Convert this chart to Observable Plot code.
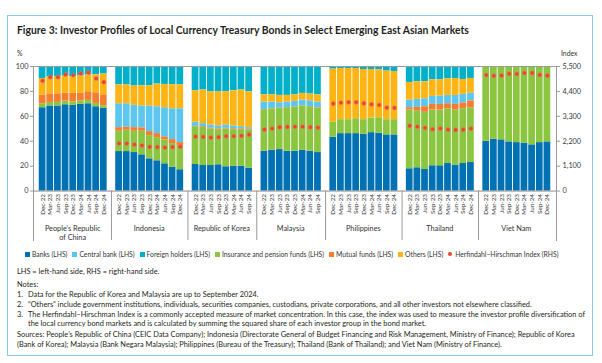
<!DOCTYPE html>
<html><head><meta charset="utf-8">
<script src="https://cdn.jsdelivr.net/npm/d3@7"></script>
<script src="https://cdn.jsdelivr.net/npm/@observablehq/plot@0.6"></script>
<style>
body{margin:0;background:#fff;font-family:Lato,"Open Sans",sans-serif;color:#231f20;}
#page{position:relative;width:602px;height:363px;overflow:hidden;}
#box{position:absolute;left:7px;top:15px;width:586px;height:341px;border:1px solid #8ccbe8;box-sizing:border-box;}
#title{position:absolute;left:17px;top:24px;font-weight:700;font-size:10.4px;white-space:nowrap;line-height:13px;}
.ylab{position:absolute;top:49px;font-size:6.8px;color:#333;line-height:8px;}
#chart{position:absolute;left:7px;top:40px;}
#legend{position:absolute;left:25px;top:250px;display:flex;gap:5px;font-size:6.75px;white-space:nowrap;align-items:center;line-height:8px;color:#333}
#legend .item{display:flex;align-items:center}
.sw{display:inline-block;width:5px;height:5px;margin-right:2px}
.dotsw{display:inline-block;width:4px;height:4px;border-radius:50%;margin-right:3px}
.note{position:absolute;font-size:7.4px;white-space:nowrap;line-height:9px;color:#231f20}
</style></head>
<body><div id="page">
<div id="box"></div>
<div id="title">Figure 3: Investor Profiles of Local Currency Treasury Bonds in Select Emerging East Asian Markets</div>
<div class="ylab" style="left:17px">%</div>
<div class="ylab" style="left:561px">Index</div>
<div id="chart"></div>
<div id="legend"></div>
<div id="notes"></div>
</div>
<script>
const markets = ["People's Republic of China","Indonesia","Republic of Korea","Malaysia","Philippines","Thailand","Viet Nam"];
const marketLines = [["People's Republic","of China"],["Indonesia"],["Republic of Korea"],["Malaysia"],["Philippines"],["Thailand"],["Viet Nam"]];
const quarters = ["Dec-22","Mar-23","Jun-23","Sep-23","Dec-23","Mar-24","Jun-24","Sep-24","Dec-24"];

const seriesNames = ["Banks (LHS)","Central bank (LHS)","Foreign holders (LHS)","Insurance and pension funds (LHS)","Mutual funds (LHS)","Others (LHS)"];
const seriesColors = ["#0071b3","#5cc6ee","#00b0cb","#8cc540","#f47d30","#fdb515"];
const stackOrder = ["Banks (LHS)","Insurance and pension funds (LHS)","Mutual funds (LHS)","Central bank (LHS)","Others (LHS)","Foreign holders (LHS)"];
const hhiLabel = "Herfindahl–Hirschman Index (RHS)";
const hhiColor = "#ea4530";

// shares (%) per market, per quarter
const banks = [
  [66.9,68.3,68.3,69.3,68.8,69.6,70.1,67.7,66.4],
  [31.7,31.7,30.9,29.1,25.9,24.3,21.9,19.2,17.1],
  [21.3,20.5,20.5,21.1,19.5,20.0,20.0,18.4],
  [32.0,32.8,33.3,32.0,32.0,32.8,32.0,30.9],
  [43.2,46.1,46.1,46.1,45.6,46.9,46.4,45.1,45.1],
  [17.9,18.7,17.3,20.3,20.3,22.1,20.8,22.1,22.9],
  [40.0,41.6,41.1,39.5,38.9,38.4,37.1,38.9,39.5]
];
const insurance = [
  [3.0,2.9,2.9,3.0,2.7,2.7,2.7,2.7,2.1],
  [16.3,17.1,17.1,18.9,18.6,18.6,19.2,18.9,19.4],
  [30.4,30.7,29.4,28.2,30.4,29.3,29.3,30.7],
  [33.3,33.1,33.1,34.9,35.2,35.5,35.7,35.8],
  [12.0,11.2,11.2,12.0,11.7,11.8,12.5,12.2,12.2],
  [47.2,45.8,45.9,44.8,44.8,44.0,44.3,44.0,43.8],
  [59.3,57.7,58.2,59.8,60.4,60.9,62.2,60.4,59.8]
];
const mutualFunds = [
  [6.9,6.9,6.9,6.4,6.9,6.1,6.9,8.5,8.8],
  [2.9,2.4,2.9,2.7,3.2,3.2,2.4,3.2,2.4],
  [0.3,0.6,0.6,0.6,0.5,0.6,0.6,0.5],
  [0.2,0.2,0.2,0.2,0.2,0.2,0.2,0.2],
  [0,0,0,0,0,0,0,0,0],
  [1.8,2.7,4.5,4.5,4.5,4.0,4.5,4.6,5.6],
  [0,0,0,0,0,0,0,0,0]
];
const centralBank = [
  [0,0,0,0,0,0,0,0,0],
  [19.2,18.9,17.9,17.6,20.6,21.6,23.4,24.8,27.2],
  [3.2,2.3,2.6,2.4,2.7,2.4,1.8,1.3],
  [6.0,5.4,4.3,4.4,4.6,4.6,4.6,4.6],
  [0,0,0,0,0,0,0,0,0],
  [6.2,6.4,6.4,6.4,6.7,6.7,7.2,6.9,6.4],
  [0,0,0,0,0,0,0,0,0]
];
const others = [
  [13.6,13.4,13.6,13.6,13.3,14.1,13.4,14.4,16.6],
  [15.2,15.2,15.5,16.2,16.2,18.2,18.7,19.2,19.2],
  [25.3,27.0,26.6,27.2,26.6,28.2,29.4,28.8],
  [5.8,5.8,5.9,5.3,5.3,5.3,5.4,5.8],
  [42.7,41.1,41.1,40.3,40.3,38.9,38.4,39.0,38.7],
  [14.1,14.1,13.6,13.3,13.0,13.3,13.6,12.0,11.7],
  [0.3,0.3,0.3,0.3,0.3,0.3,0.5,0.5,0.5]
];
const foreign = [
  [9.6,8.5,8.3,7.7,8.3,7.5,6.9,6.7,6.1],
  [14.7,14.7,15.7,15.5,15.5,14.1,14.4,14.7,14.7],
  [19.5,18.9,20.3,20.5,20.3,19.5,18.9,20.3],
  [22.7,22.7,23.2,23.2,22.7,21.6,22.1,22.7],
  [2.1,1.6,1.6,1.6,2.4,2.4,2.7,3.7,4.0],
  [12.8,12.3,12.3,10.7,10.7,9.9,9.6,10.4,9.6],
  [0.4,0.4,0.4,0.4,0.4,0.4,0.2,0.2,0.2]
];
const hhi = [
  [4870,5030,5030,5150,5120,5190,5240,4970,4810],
  [2100,2100,2050,2010,1950,1940,1920,1940,1960],
  [2400,2390,2360,2380,2420,2420,2440,2490],
  [2710,2760,2820,2830,2840,2840,2820,2800],
  [3860,3900,3920,3920,3870,3830,3800,3680,3670],
  [2880,2840,2790,2730,2760,2710,2700,2710,2760],
  [5120,5090,5100,5180,5170,5210,5210,5130,5100]
];
const leftTicks = [0,20,40,60,80,100];
const rightTicks = [0,1100,2200,3300,4400,5500];
const hhiMax = 5500;

const seriesData = {
  "Banks (LHS)": banks, "Central bank (LHS)": centralBank, "Foreign holders (LHS)": foreign,
  "Insurance and pension funds (LHS)": insurance, "Mutual funds (LHS)": mutualFunds, "Others (LHS)": others
};

const domain = [], gapKeys = [], rows = [], hhiRows = [], tickRows = [], groups = [];
markets.forEach((m, i) => {
  if (i > 0) { domain.push("gap" + i); gapKeys.push("gap" + i); }
  const keys = [];
  banks[i].forEach((_, j) => {
    const key = m + "|" + quarters[j];
    domain.push(key); keys.push(key);
    tickRows.push({key, q: quarters[j]});
    hhiRows.push({key, hhi: hhi[i][j]});
    for (const s of seriesNames) rows.push({key, series: s, value: seriesData[s][i][j]});
  });
  groups.push({lines: marketLines[i], first: keys[0], last: keys[keys.length - 1]});
});

const yMin = -39.7;
const gray = "#9a9a9a";
const plot = Plot.plot({
  width: 586, height: 208,
  marginTop: 26, marginBottom: 8, marginLeft: 26, marginRight: 37,
  style: {fontFamily: "Lato, 'Open Sans', sans-serif", fontSize: "7.3px", color: "#3a3a3a", background: "transparent", overflow: "visible"},
  x: {type: "band", domain, paddingInner: 0.12, paddingOuter: 0.75, axis: null},
  y: {domain: [yMin, 100], axis: null},
  color: {domain: seriesNames, range: seriesColors},
  marks: [
    Plot.barY(rows, {x: "key", y: "value", fill: "series", order: stackOrder}),
    Plot.frame({anchor: "top", stroke: gray}),
    Plot.frame({anchor: "left", stroke: gray}),
    Plot.frame({anchor: "right", stroke: gray}),
    Plot.ruleY([0], {stroke: "#8a8a8a"}),
    Plot.ruleX(gapKeys, {y1: yMin, y2: 0, stroke: gray}),
    Plot.axisY({anchor: "left", ticks: leftTicks, tickSize: 3, tickPadding: 2, label: null, stroke: gray}),
    Plot.axisY({anchor: "right", ticks: rightTicks.map(d => d / hhiMax * 100), tickFormat: d => d3.format(",")(Math.round(d * hhiMax / 100)), tickSize: 3, tickPadding: 3, label: null, stroke: gray}),
    Plot.dot(hhiRows, {x: "key", y: d => d.hhi / hhiMax * 100, r: 2.1, fill: hhiColor, stroke: "#f07a60", strokeWidth: 0.5}),
    Plot.text(tickRows, {x: "key", y: 0, text: "q", rotate: -90, textAnchor: "end", dy: 3, fontSize: 6.3, fill: "#333"})
  ]
});
document.getElementById("chart").appendChild(plot);

// group labels centred under each market's bars, positioned with Plot's x scale
const xs = plot.scale("x");
const ys = plot.scale("y");
const svg = d3.select(plot);
for (const g of groups) {
  const cx = (xs.apply(g.first) + xs.apply(g.last) + xs.bandwidth) / 2;
  const t = svg.append("text").attr("text-anchor", "middle").attr("font-size", 7.3).attr("fill", "#333")
    .attr("font-family", "Lato, 'Open Sans', sans-serif");
  g.lines.forEach((ln, k) => {
    t.append("tspan").attr("x", cx).attr("y", ys.apply(-30.4) + k * 9).attr("dy", "0.35em").text(ln);
  });
}

// legend
const legend = document.getElementById("legend");
seriesNames.forEach((s, i) => {
  const it = document.createElement("span"); it.className = "item";
  it.innerHTML = `<span class="sw" style="background:${seriesColors[i]}"></span>${s}`;
  legend.appendChild(it);
});
const hi = document.createElement("span"); hi.className = "item";
hi.innerHTML = `<span class="dotsw" style="background:${hhiColor}"></span>${hhiLabel}`;
legend.appendChild(hi);

// notes
const noteLines = [
  [17, 267, "LHS = left-hand side, RHS = right-hand side."],
  [17, 280, "Notes:"],
  [17, 290, "1."], [28, 290, "Data for the Republic of Korea and Malaysia are up to September 2024."],
  [17, 300, "2."], [28, 300, "“Others” include government institutions, individuals, securities companies, custodians, private corporations, and all other investors not elsewhere classified."],
  [17, 309.5, "3."], [28, 309.5, "The Herfindahl–Hirschman Index is a commonly accepted measure of market concentration. In this case, the index was used to measure the investor profile diversification of"],
  [28, 319, "the local currency bond markets and is calculated by summing the squared share of each investor group in the bond market."],
  [17, 329.5, "Sources: People’s Republic of China (CEIC Data Company); Indonesia (Directorate General of Budget Financing and Risk Management, Ministry of Finance); Republic of Korea"],
  [17, 339.5, "(Bank of Korea); Malaysia (Bank Negara Malaysia); Philippines (Bureau of the Treasury); Thailand (Bank of Thailand); and Viet Nam (Ministry of Finance)."]
];
const notes = document.getElementById("notes");
for (const [x, y, txt] of noteLines) {
  const d = document.createElement("div"); d.className = "note";
  d.style.left = x + "px"; d.style.top = y + "px"; d.textContent = txt;
  notes.appendChild(d);
}
</script>
</body></html>
